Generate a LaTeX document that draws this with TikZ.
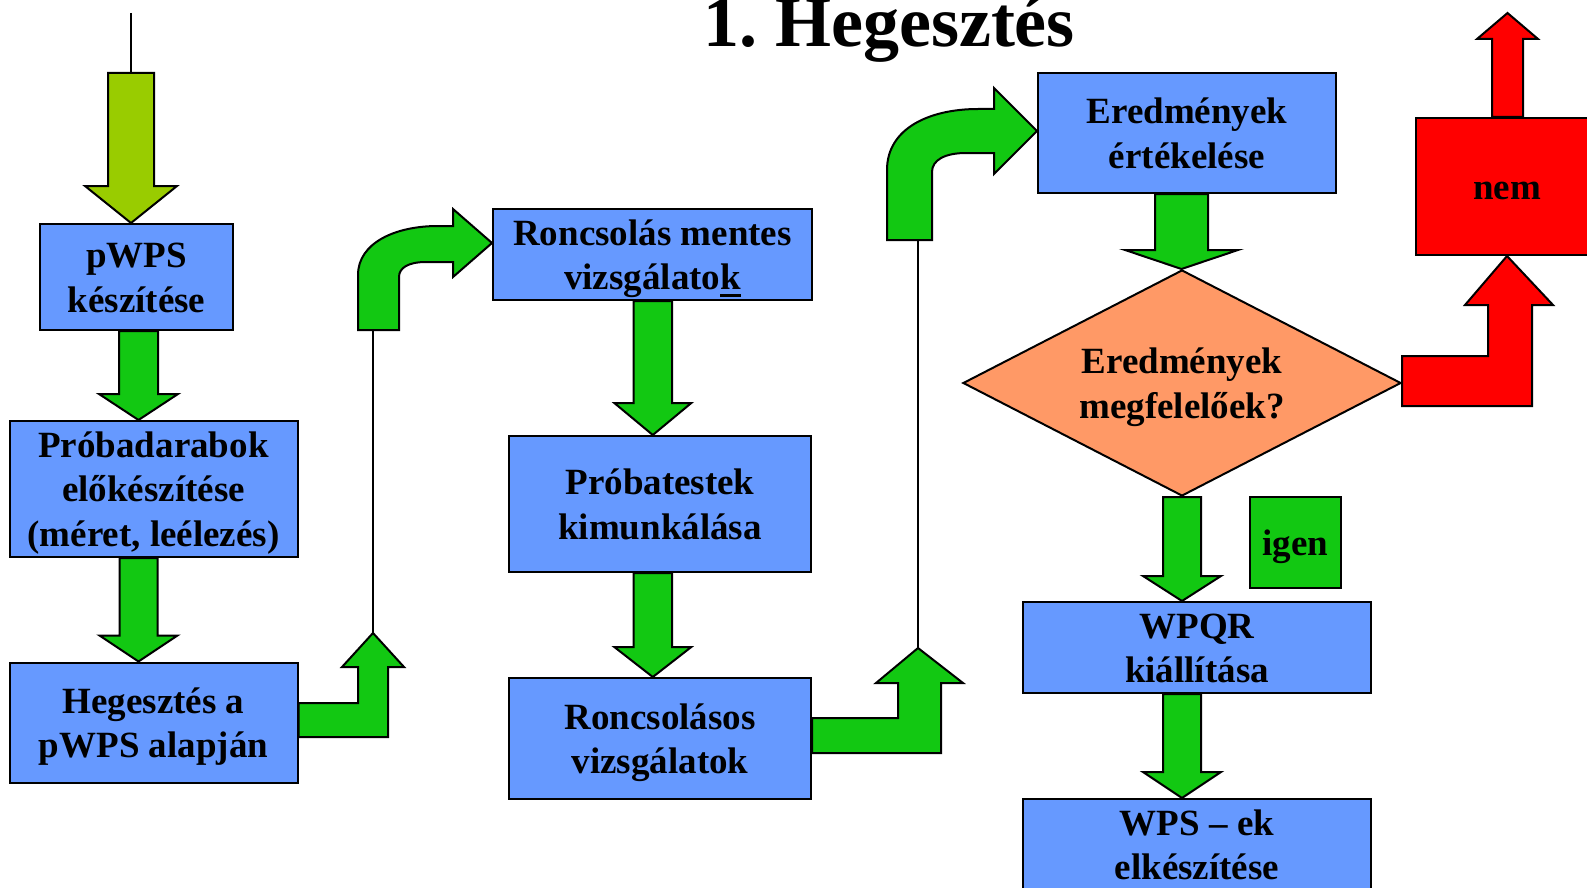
\documentclass[tikz,border=0pt]{standalone}
\usepackage{fontspec}
\setmainfont{Liberation Serif}
\usepackage{xcolor}
\usepackage{tikz}
\usetikzlibrary{shapes.geometric,calc,positioning}

\definecolor{boxblue}{HTML}{6699FF}
\definecolor{arrgreen}{HTML}{12C812}
\definecolor{arrlime}{HTML}{99CC00}
\definecolor{decorange}{HTML}{FF9966}
\definecolor{nemred}{HTML}{FF0000}

\newcommand{\blockvert}[7][arrgreen]{%
  \path[blockarrow,fill=#1] let \p1=#2, \p2=#3 in
    ({#4pt-#5pt},\y1) -- ({#4pt+#5pt},\y1) -- ({#4pt+#5pt},{\y2+#7pt})
    -- ({#4pt+#6pt},{\y2+#7pt}) -- (#4pt,\y2) -- ({#4pt-#6pt},{\y2+#7pt})
    -- ({#4pt-#5pt},{\y2+#7pt}) -- cycle;}

\begin{document}
\begin{tikzpicture}[x=1pt,y=-1pt,
    box/.style={draw, line width=2pt, fill=boxblue, inner sep=0pt, align=center, text=black,
      font=\fontsize{37}{44.5}\selectfont\bfseries, text depth=9.5pt},
    oneline/.style={text height=35pt},
    twolines/.style={text height=79.5pt},
    threelines/.style={text height=124pt},
    decision/.style={box, diamond, fill=decorange, shape aspect=1.94},
    blockarrow/.style={draw=black, line width=2pt, line join=miter},
    thinline/.style={draw=black, line width=1.6pt}]
    \useasboundingbox (0,0) rectangle (1587,888);
    \clip (0,0) rectangle (1587,888);

    \node[anchor=base, font=\fontsize{72}{80}\selectfont\bfseries] (title) at (889,47) {1.\ Hegesztés};

    \node[box, twolines, minimum width=193, minimum height=106] (pwps) at (136.5,277) {pWPS\\készítése};
    \node[box, threelines, minimum width=288, minimum height=136] (probadarab) at (153.5,489) {Próbadarabok\\előkészítése\\(méret, leélezés)};
    \node[box, twolines, minimum width=288, minimum height=120] (heg) at (153.5,722.5) {Hegesztés a\\pWPS alapján};
    \node[box, twolines, minimum width=319, minimum height=91] (ronmentes) at (652.5,254.5) {Roncsolás mentes\\vizsgálatok\llap{\rule[-7.7pt]{20.6pt}{3pt}}};
    \node[box, twolines, minimum width=302, minimum height=136] (probatest) at (660,504) {Próbatestek\\kimunkálása};
    \node[box, twolines, minimum width=302, minimum height=121] (roncsolasos) at (660,738.5) {Roncsolásos\\vizsgálatok};
    \node[box, twolines, minimum width=298, minimum height=120] (eredm) at (1187,133) {Eredmények\\értékelése};
    \node[decision, twolines, minimum width=438, minimum height=226] (dont) at (1182,383) {Eredmények\\megfelelőek?};
    \node[box, oneline, fill=nemred, minimum width=182, minimum height=137] (nem) at (1507,186.5) {nem};
    \node[box, oneline, fill=arrgreen, minimum width=91, minimum height=91] (igen) at (1295.5,542.5) {igen};
    \node[box, twolines, minimum width=348, minimum height=91] (wpqr) at (1197,647.5) {WPQR\\kiállítása};
    \node[box, twolines, minimum width=348, minimum height=91] (wps) at (1197,844.5) {WPS -- ek\\elkészítése};

    \coordinate (start) at (131,13);
    \coordinate (limetop) at (131,73);
    \coordinate (upA) at (373,633);
    \coordinate (curA) at (373,330);
    \coordinate (upB) at (918,648);
    \coordinate (curB) at (918,240);
    \coordinate (redtop) at (1507.5,13);

    \draw[thinline] (start) -- (limetop);
    \blockvert[arrlime]{(limetop)}{(pwps.north)}{131}{23}{46}{37}
    \blockvert{(pwps.south)}{(probadarab.north)}{138.5}{19.5}{39.5}{26}
    \blockvert{(probadarab.south)}{(heg.north)}{138.5}{19}{39}{26}
    \blockvert{(ronmentes.south)}{(probatest.north)}{652.8}{19.3}{38.5}{32}
    \blockvert{(probatest.south)}{(roncsolasos.north)}{652.8}{19.3}{38.5}{30}
    \blockvert{(eredm.south)}{(dont.north)}{1181.5}{26.5}{56.5}{19}
    \blockvert{(dont.south)}{(wpqr.north)}{1182}{19}{39}{25}
    \blockvert{(wpqr.south)}{(wps.north)}{1182}{19}{39}{26}
    \blockvert[nemred]{(nem.north)}{(redtop)}{1507.5}{15.5}{30.5}{-26}

    \path[blockarrow, fill=arrgreen] (heg.east |- 0,703) -- (358,703) -- (358,667) -- (342,667) -- (upA)
      -- (404,667) -- (388,667) -- (388,737) -- (heg.east |- 0,737) -- cycle;
    \draw[thinline] (upA) -- (curA);
    \path[blockarrow, fill=arrgreen] (358,330) -- (358,275) .. controls (358,243) and (395,226) .. (438,226)
      -- (453,226) -- (453,209) -- (ronmentes.west |- 0,243) -- (453,277) -- (453,262) -- (426,262)
      .. controls (408,262) and (399,268) .. (399,277) -- (399,330) -- cycle;

    \path[blockarrow, fill=arrgreen] (roncsolasos.east |- 0,718) -- (898,718) -- (898,683) -- (876,683) -- (upB)
      -- (963,683) -- (941,683) -- (941,753) -- (roncsolasos.east |- 0,753) -- cycle;
    \draw[thinline] (upB) -- (curB);
    \path[blockarrow, fill=arrgreen] (887,240) -- (887,170) .. controls (887,128) and (930,109) .. (978,109)
      -- (994,109) -- (994,88) -- (eredm.west |- 0,131) -- (994,174) -- (994,153) -- (966,153)
      .. controls (945,153) and (932,160) .. (932,172) -- (932,240) -- cycle;

    \path[blockarrow, fill=nemred] (dont.east |- 0,356) -- (1488,356) -- (1488,305) -- (1465,305) -- (nem.south)
      -- (1553,305) -- (1532,305) -- (1532,406) -- (dont.east |- 0,406) -- cycle;
\end{tikzpicture}
\end{document}
